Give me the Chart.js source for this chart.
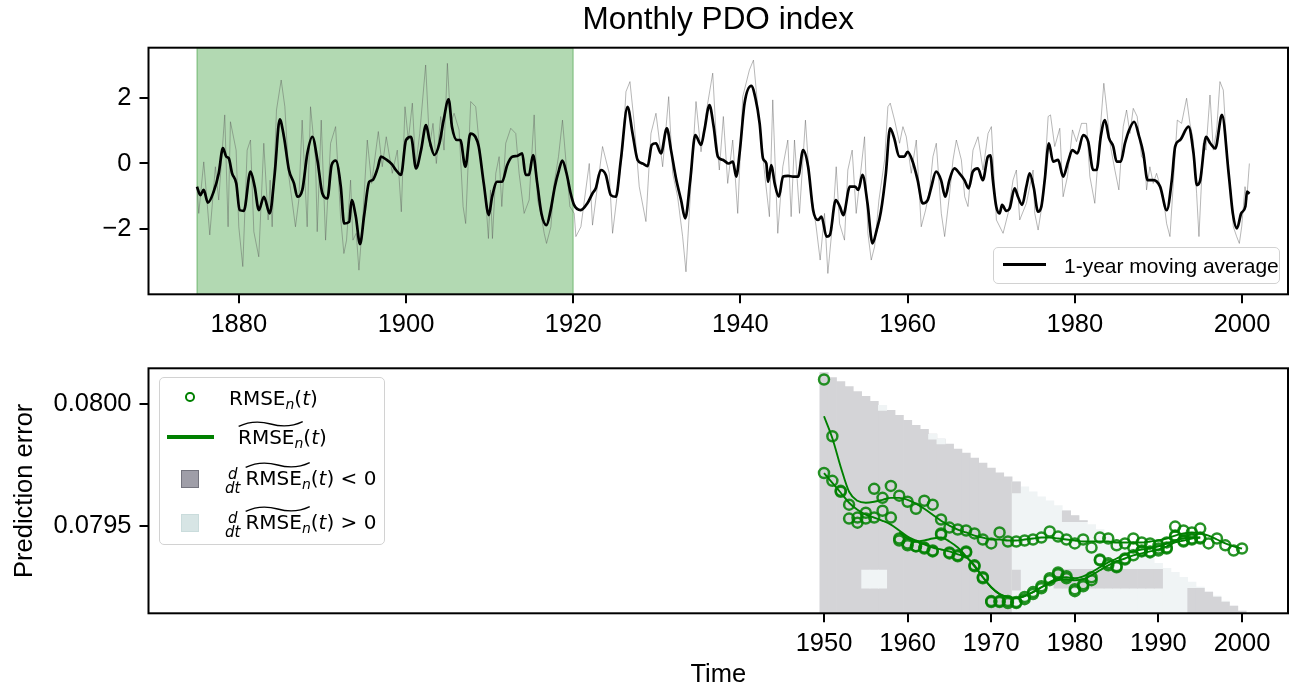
<!DOCTYPE html>
<html><head><meta charset="utf-8">
<script src="https://cdn.jsdelivr.net/npm/chart.js@4.4.1/dist/chart.umd.min.js"></script>
<style>
html,body{margin:0;padding:0;background:#fff;}
#wrap{position:relative;width:1307px;height:690px;overflow:hidden;}
canvas{position:absolute;left:0;}
#c1{top:0;} #c2{top:345px;}
.leg{position:absolute;background:rgba(255,255,255,0.85);border:1.5px solid #d2d2d2;border-radius:5px;box-sizing:border-box;}
.abs{position:absolute;}
.m{position:absolute;font-family:"DejaVu Sans",sans-serif;font-size:20px;line-height:20px;white-space:nowrap;color:#000;}
.sb{font-style:italic;font-size:14px;vertical-align:-4px;}
.tl{position:relative;display:inline-block;}
.tl svg{position:absolute;left:0;top:-6px;width:100%;height:6px;overflow:visible;}
.fr{display:inline-block;vertical-align:-8px;text-align:center;font-style:italic;font-size:15px;line-height:14px;margin-right:5px;}
</style></head>
<body><div id="wrap">
<canvas id="c1" width="1307" height="345"></canvas>
<canvas id="c2" width="1307" height="345"></canvas>

<div class="leg" style="left:993px;top:247px;width:287px;height:37px;">
  <div class="abs" style="left:9px;top:14.5px;width:43px;height:3px;background:#000;"></div>
  <div class="abs" style="left:70px;top:0;height:35px;line-height:35px;font-size:21px;font-family:Arial,'Liberation Sans',sans-serif;white-space:nowrap;">1-year moving average</div>
</div>

<div class="leg" style="left:159px;top:377px;width:226px;height:168px;">
  <div class="abs" style="left:25px;top:14.4px;width:5.5px;height:5.5px;border:2.5px solid #008000;border-radius:50%;"></div>
  <div class="m" style="left:69px;top:10px;">RMSE<span class="sb">n</span>(<i>t</i>)</div>

  <div class="abs" style="left:7px;top:57.3px;width:47px;height:3.5px;background:#008000;"></div>
  <div class="m" style="left:78px;top:49px;"><span class="tl">RMSE<span class="sb">n</span><svg viewBox="0 0 100 10" preserveAspectRatio="none"><path d="M1,9 C20,-1 40,2 50,5 C60,8 80,11 99,1" fill="none" stroke="#000" stroke-width="1.3" vector-effect="non-scaling-stroke"/></svg></span>(<i>t</i>)</div>

  <div class="abs" style="left:21px;top:92.3px;width:18.3px;height:17.4px;box-sizing:border-box;background:#9f9ea8;border:1.5px solid #74747e;"></div>
  <div class="m" style="left:65px;top:88.7px;"><span class="fr">d<br>dt</span><span class="tl">RMSE<span class="sb">n</span><svg viewBox="0 0 100 10" preserveAspectRatio="none"><path d="M1,9 C20,-1 40,2 50,5 C60,8 80,11 99,1" fill="none" stroke="#000" stroke-width="1.3" vector-effect="non-scaling-stroke"/></svg></span>(<i>t</i>) &lt; 0</div>

  <div class="abs" style="left:21px;top:136.3px;width:18.3px;height:17.4px;box-sizing:border-box;background:#d7e5e5;border:1.5px solid #cadcdc;"></div>
  <div class="m" style="left:65px;top:132.7px;"><span class="fr">d<br>dt</span><span class="tl">RMSE<span class="sb">n</span><svg viewBox="0 0 100 10" preserveAspectRatio="none"><path d="M1,9 C20,-1 40,2 50,5 C60,8 80,11 99,1" fill="none" stroke="#000" stroke-width="1.3" vector-effect="non-scaling-stroke"/></svg></span>(<i>t</i>) &gt; 0</div>
</div>
</div>

<script>
// ---------------- DATA ----------------
const X_RANGE = [1869.2, 2005.5];
const TOP_YRANGE = [-4.01, 3.55];
const BOT_YRANGE = [0.079141, 0.080147];
const TOP_XTICKS = [1880, 1900, 1920, 1940, 1960, 1980, 2000];
const TOP_YTICKS = [-2, 0, 2];
const BOT_XTICKS = [1950, 1960, 1970, 1980, 1990, 2000];
const BOT_YTICKS = [0.0795, 0.0800];
const SPAN = [1875, 1920];

// monthly PDO index (visible extremes), [year, value]
const RAW = [
[1875.0,-0.7],[1875.21,-1.53],[1875.81,0.05],[1876.53,-2.19],[1877.2,-0.1],[1877.6,-1.12],[1878.32,1.49],[1878.72,-1.94],[1879.0,1.28],[1879.68,0.41],[1880.0,-1.94],[1880.48,-3.16],[1881.0,0.41],[1881.4,0.72],[1881.8,-2.09],[1882.39,-2.86],[1882.99,0.62],[1883.51,-1.73],[1883.75,-0.51],[1883.99,-1.94],[1884.51,1.64],[1885.07,2.56],[1885.51,1.74],[1885.99,-0.4],[1886.78,-1.94],[1887.18,-1.12],[1887.58,1.33],[1888.18,-1.94],[1888.58,1.74],[1889.18,0.11],[1889.38,-2.09],[1889.86,1.33],[1890.38,-2.35],[1890.98,0.62],[1891.58,1.13],[1892.17,-1.63],[1892.57,-2.76],[1892.89,-2.35],[1893.37,-0.51],[1893.65,-2.35],[1894.05,-2.14],[1894.37,-3.27],[1894.77,-1.94],[1895.37,0.72],[1895.89,-0.61],[1896.69,0.98],[1897.16,-0.1],[1897.64,0.82],[1898.36,-0.3],[1898.96,0.41],[1899.44,-1.48],[1899.88,1.74],[1900.28,0.72],[1900.76,1.85],[1901.16,-0.1],[1901.64,0.92],[1902.35,3.02],[1902.83,0.52],[1903.23,1.23],[1903.63,0.0],[1904.15,1.44],[1904.55,0.41],[1904.95,3.07],[1905.35,1.23],[1905.75,1.54],[1906.35,1.03],[1906.83,-1.32],[1907.14,-1.84],[1907.74,1.9],[1908.34,1.74],[1908.82,0.41],[1909.54,-1.12],[1909.86,-2.3],[1910.1,-0.81],[1910.34,-2.3],[1910.74,-0.3],[1911.14,0.21],[1911.46,-1.32],[1911.93,0.62],[1912.53,1.08],[1913.13,0.92],[1913.53,-0.3],[1914.13,-1.53],[1914.73,-1.12],[1915.33,1.49],[1915.73,-1.12],[1916.13,-1.53],[1916.53,-2.14],[1916.81,-2.45],[1917.33,-1.94],[1917.72,-0.61],[1918.24,0.21],[1918.72,1.33],[1919.12,0.11],[1919.6,-1.32],[1920.12,-1.53],
[1920.32,-2.24],[1920.92,-1.94],[1921.92,0.0],[1922.31,-1.89],[1923.51,0.52],[1924.31,-0.3],[1924.71,-2.14],[1925.91,0.41],[1926.31,2.2],[1926.79,2.51],[1927.3,1.23],[1927.9,-0.71],[1928.7,-1.78],[1929.3,0.92],[1929.9,1.54],[1930.7,-0.1],[1931.42,2.05],[1931.9,-0.3],[1932.49,-1.02],[1933.09,-2.24],[1933.49,-3.32],[1934.09,-0.61],[1934.69,1.9],[1935.29,0.36],[1935.89,1.54],[1936.69,2.77],[1937.08,0.92],[1937.48,-0.2],[1937.96,1.44],[1938.48,-0.61],[1939.08,0.72],[1939.68,-1.53],[1940.28,2.05],[1941.08,2.87],[1941.56,3.17],[1942.08,1.74],[1942.47,0.72],[1943.07,-0.71],[1943.47,-1.63],[1943.87,1.95],[1944.27,-0.81],[1944.47,-2.14],[1945.07,-0.1],[1945.67,0.72],[1946.07,-1.63],[1946.47,0.72],[1947.07,-1.53],[1947.78,1.33],[1948.26,-0.51],[1949.06,-1.94],[1949.54,-2.96],[1950.06,-1.53],[1950.46,-3.37],[1951.06,-1.73],[1951.46,-0.1],[1951.86,-1.84],[1952.45,-2.35],[1952.85,-0.2],[1953.37,0.41],[1953.85,-1.53],[1954.85,0.82],[1955.25,-2.14],[1955.65,-2.96],[1956.05,-2.55],[1956.57,-1.12],[1957.25,0.11],[1957.64,1.74],[1957.92,1.85],[1958.44,1.33],[1959.04,0.62],[1959.44,1.13],[1959.84,0.82],[1960.44,-0.3],[1961.04,0.72],[1961.63,-1.94],[1962.15,-1.43],[1962.63,-0.81],[1963.03,0.21],[1963.43,0.62],[1964.03,-1.53],[1964.43,-2.24],[1965.03,-0.92],[1965.43,0.11],[1965.83,0.72],[1966.43,0.11],[1966.83,-1.02],[1967.22,-1.32],[1967.82,0.41],[1968.42,0.82],[1969.02,-0.2],[1969.62,0.92],
[1970.02,1.13],[1970.62,-1.73],[1971.42,-2.14],[1972.02,-1.53],[1972.61,-0.51],[1973.01,-0.2],[1973.41,-1.73],[1974.21,-1.22],[1975.01,-0.2],[1975.21,-1.53],[1975.61,-2.04],[1976.21,-1.07],[1976.81,1.44],[1977.09,1.49],[1977.6,0.52],[1978.2,1.08],[1978.6,-1.02],[1979.12,-0.4],[1979.72,1.03],[1980.2,0.67],[1980.8,1.23],[1981.4,1.23],[1981.8,-0.4],[1982.39,-1.22],[1982.99,0.87],[1983.47,2.46],[1983.79,1.74],[1984.27,0.52],[1984.79,-0.2],[1985.27,-0.81],[1985.79,1.13],[1986.19,1.64],[1986.59,0.92],[1986.99,1.69],[1987.46,1.44],[1987.98,0.21],[1988.38,0.11],[1988.58,-0.81],[1988.98,-0.1],[1989.38,-0.61],[1989.78,-0.3],[1990.58,-1.02],[1990.98,-1.84],[1991.38,-2.24],[1991.78,-0.61],[1992.26,1.33],[1992.77,1.23],[1993.37,2.0],[1993.77,1.23],[1994.17,0.72],[1994.57,-0.92],[1994.85,-2.24],[1995.37,0.62],[1995.69,0.41],[1996.17,2.1],[1996.57,0.41],[1996.97,1.03],[1997.36,2.51],[1997.76,2.25],[1998.24,0.21],[1998.64,-0.81],[1998.96,-1.94],[1999.36,-2.24],[1999.68,-2.45],[1999.96,-1.94],[2000.36,-0.71],[2000.56,-1.12],[2000.88,0.0]
];

// 1-year moving average, [year, value]
const MA = [
[1875.0,-0.71],[1875.4,-0.97],[1875.8,-0.81],[1876.3,-1.2],[1877.0,-0.86],[1877.6,-0.3],[1878.1,0.47],[1878.5,0.21],[1878.8,0.16],[1879.2,-0.3],[1879.7,-0.61],[1880.1,-1.43],[1880.6,-1.45],[1881.4,-0.25],[1881.9,-0.71],[1882.4,-1.43],[1883.0,-1.02],[1883.7,-1.53],[1884.3,-0.3],[1884.9,1.35],[1885.4,0.82],[1886.0,-0.2],[1886.6,-0.61],[1887.0,-1.02],[1887.6,-0.81],[1888.2,0.31],[1888.8,0.82],[1889.4,0.11],[1890.0,-0.92],[1890.6,-1.07],[1891.1,-0.05],[1891.6,0.09],[1892.2,-0.71],[1892.6,-1.84],[1893.2,-1.79],[1893.5,-1.12],[1894.0,-1.63],[1894.5,-2.47],[1895.0,-1.58],[1895.6,-0.56],[1896.0,-0.51],[1896.6,-0.15],[1897.0,0.21],[1897.7,0.11],[1898.3,-0.02],[1898.8,-0.2],[1899.4,-0.35],[1900.0,0.72],[1900.6,0.82],[1901.2,-0.15],[1901.8,0.41],[1902.4,1.18],[1902.8,0.72],[1903.4,0.26],[1904.0,0.62],[1904.5,1.33],[1905.1,1.97],[1905.5,1.13],[1906.1,0.72],[1906.5,0.72],[1907.1,-0.1],[1907.7,0.92],[1908.3,0.82],[1908.7,0.52],[1909.3,-0.61],[1909.9,-1.58],[1910.3,-1.02],[1910.9,-0.56],[1911.5,-0.56],[1912.1,-0.05],[1912.7,0.21],[1913.3,0.23],[1913.9,0.31],[1914.3,-0.35],[1914.7,-0.35],[1915.2,0.26],[1915.7,-0.61],[1916.2,-1.53],[1916.8,-1.89],[1917.3,-1.43],[1917.8,-0.71],[1918.3,-0.2],[1918.7,0.09],[1919.2,-0.3],[1919.7,-0.92],
[1920.1,-1.27],[1920.9,-1.43],[1921.7,-1.22],[1922.3,-0.92],[1922.7,-0.76],[1923.3,-0.2],[1923.9,-0.35],[1924.5,-0.97],[1925.1,-1.02],[1925.7,0.11],[1926.5,1.74],[1927.1,0.92],[1927.7,0.11],[1928.3,0.0],[1928.9,-0.08],[1929.4,0.57],[1929.9,0.62],[1930.5,0.31],[1931.2,1.08],[1931.7,0.41],[1932.3,-0.46],[1932.9,-1.12],[1933.4,-1.68],[1934.0,-0.51],[1934.6,0.87],[1935.3,0.57],[1935.7,1.03],[1936.3,1.79],[1936.8,1.13],[1937.3,0.21],[1937.9,0.11],[1938.6,0.0],[1939.1,0.06],[1939.5,-0.4],[1939.9,0.31],[1940.5,1.85],[1941.3,2.38],[1941.8,2.0],[1942.3,1.23],[1942.7,0.16],[1943.1,0.0],[1943.3,-0.56],[1943.7,-0.05],[1944.1,-0.61],[1944.6,-1.02],[1945.1,-0.4],[1945.7,-0.38],[1946.3,-0.4],[1946.9,-0.4],[1947.5,0.41],[1948.1,-0.1],[1948.7,-1.43],[1949.3,-1.73],[1949.7,-1.63],[1950.3,-2.24],[1950.7,-2.19],[1951.4,-1.12],[1951.9,-1.32],[1952.3,-1.58],[1953.1,-0.71],[1953.7,-0.71],[1954.1,-0.81],[1954.6,-0.35],[1955.2,-1.22],[1955.8,-2.45],[1956.3,-2.04],[1956.8,-1.48],[1957.4,-0.3],[1957.9,1.08],[1958.4,0.77],[1959.0,0.21],[1959.6,0.21],[1960.0,0.36],[1960.6,0.06],[1961.2,-0.51],[1961.8,-1.22],[1962.4,-1.12],[1962.8,-0.76],[1963.4,-0.25],[1964.0,-0.51],[1964.5,-1.02],[1965.0,-0.51],[1965.6,-0.15],[1966.2,-0.3],[1966.8,-0.51],[1967.3,-0.76],[1967.8,-0.25],[1968.4,-0.15],[1969.0,-0.51],[1969.6,0.21],[1969.9,0.25],
[1970.2,-0.51],[1970.6,-1.32],[1971.0,-1.53],[1971.3,-1.27],[1971.8,-1.45],[1972.2,-1.38],[1972.8,-0.76],[1973.2,-1.02],[1973.7,-1.27],[1974.2,-0.71],[1974.6,-0.3],[1975.1,-0.76],[1975.6,-1.48],[1976.0,-1.32],[1976.4,-0.51],[1976.9,0.62],[1977.4,0.06],[1978.0,0.11],[1978.6,-0.4],[1979.2,0.06],[1979.7,0.41],[1980.3,0.31],[1981.0,0.87],[1981.6,0.67],[1982.2,-0.2],[1982.6,-0.2],[1983.1,0.82],[1983.6,1.33],[1984.1,0.77],[1984.6,0.52],[1985.0,0.06],[1985.5,0.06],[1986.0,0.62],[1986.5,1.03],[1987.1,1.28],[1987.7,0.82],[1988.2,0.31],[1988.7,-0.51],[1989.4,-0.51],[1990.2,-0.71],[1991.0,-1.43],[1991.6,-0.51],[1992.0,0.52],[1992.6,0.72],[1993.6,1.13],[1994.2,0.31],[1994.6,-0.66],[1995.0,-0.51],[1995.7,0.82],[1996.2,0.62],[1996.8,0.46],[1997.6,1.49],[1998.4,-0.3],[1998.9,-1.53],[1999.4,-1.99],[1999.9,-1.53],[2000.4,-1.32],[2000.6,-0.86],[2000.9,-0.93]
];

// prediction error series
const S1_START = 1950;
const S1 = [0.080101,0.079868,0.079644,0.079587,0.079534,0.079554,0.079652,0.079615,0.079664,0.079624,0.079599,0.079570,0.079603,0.079587,0.079526,0.079493,0.079485,0.079481,0.079469,0.079444,0.079428,0.079473,0.079436,0.079436,0.079440,0.079444,0.079452,0.079477,0.079456,0.079444,0.079428,0.079444,0.079411,0.079452,0.079448,0.079420,0.079428,0.079448,0.079432,0.079428,0.079420,0.079432,0.079497,0.079481,0.079473,0.079489,0.079428,0.079448,0.079420,0.079399,0.079407];
const S2_START = 1950;
const S2 = [0.079717,0.079685,0.079640,0.079530,0.079513,0.079530,0.079534,0.079562,0.079534,0.079448,0.079428,0.079416,0.079411,0.079395,0.079464,0.079391,0.079379,0.079395,0.079338,0.079289,0.079191,0.079191,0.079191,0.079187,0.079199,0.079220,0.079244,0.079277,0.079301,0.079285,0.079232,0.079252,0.079277,0.079362,0.079338,0.079330,0.079362,0.079379,0.079395,0.079391,0.079399,0.079407,0.079456,0.079436,0.079444,0.079448];
const S3_START = 1959;
const S3 = [0.079440,0.079420,0.079416,0.079407,0.079399,0.079469,0.079387,0.079375,0.079391,0.079334,0.079285,0.079187,0.079187,0.079183,0.079183,0.079208,0.079228,0.079252,0.079285,0.079309,0.079293,0.079240,0.079260,0.079289,0.079358,0.079346,0.079334,0.079366,0.079411,0.079399,0.079395,0.079407,0.079411,0.079460,0.079440,0.079448,0.079452];
// smoothed series
const L1 = [0.079950,0.079860,0.079742,0.079640,0.079603,0.079595,0.079599,0.079607,0.079615,0.079615,0.079607,0.079591,0.079570,0.079546,0.079521,0.079501,0.079485,0.079473,0.079460,0.079452,0.079444,0.079444,0.079440,0.079440,0.079444,0.079448,0.079452,0.079452,0.079448,0.079444,0.079440,0.079436,0.079436,0.079436,0.079436,0.079432,0.079432,0.079432,0.079432,0.079436,0.079440,0.079448,0.079460,0.079469,0.079473,0.079469,0.079460,0.079444,0.079428,0.079416,0.079407];
const L2 = [0.079717,0.079677,0.079636,0.079595,0.079566,0.079546,0.079534,0.079521,0.079505,0.079481,0.079456,0.079440,0.079424,0.079411,0.079403,0.079395,0.079383,0.079371,0.079338,0.079289,0.079248,0.079220,0.079208,0.079204,0.079212,0.079228,0.079248,0.079264,0.079277,0.079281,0.079277,0.079281,0.079297,0.079318,0.079338,0.079354,0.079366,0.079379,0.079387,0.079395,0.079403,0.079416,0.079432,0.079440,0.079448,0.079452];
const L3 = [0.079473,0.079448,0.079436,0.079440,0.079448,0.079452,0.079436,0.079411,0.079375,0.079334,0.079289,0.079248,0.079220,0.079208,0.079204,0.079212,0.079228,0.079248,0.079269,0.079285,0.079289,0.079285,0.079293,0.079309,0.079330,0.079350,0.079366,0.079383,0.079395,0.079403,0.079407,0.079416,0.079428,0.079440,0.079448,0.079452,0.079452];

// derivative-sign grid: one column per year
const SHADE_YEARS = [1950,1951,1952,1953,1954,1955,1956,1957,1958,1959,1960,1961,1962,1963,1964,1965,1966,1967,1968,1969,1970,1971,1972,1973,1974,1975,1976,1977,1978,1979,1980,1981,1982,1983,1984,1985,1986,1987,1988,1989,1990,1991,1992,1993,1994,1995,1996,1997,1998,1999,2000];
const SHADE_TOP = [0.0801293,0.0801089,0.0800926,0.0800722,0.0800518,0.0800314,0.0800110,0.0799947,0.0799743,0.0799539,0.0799335,0.0799131,0.0798968,0.0798764,0.0798560,0.0798356,0.0798153,0.0797989,0.0797785,0.0797582,0.0797378,0.0797174,0.0797011,0.0796807,0.0796603,0.0796399,0.0796195,0.0796032,0.0795828,0.0795624,0.0795420,0.0795216,0.0795053,0.0794849,0.0794645,0.0794441,0.0794237,0.0794074,0.0793870,0.0793666,0.0793462,0.0793259,0.0793095,0.0792891,0.0792687,0.0792483,0.0792279,0.0792116,0.0791912,0.0791708,0.0791505];
const SHADE_SIGN = [-1,-1,-1,-1,-1,-1,-1,-1,-1,-1,-1,-1,-1,-1,-1,-1,-1,-1,-1,-1,-1,-1,-1,1,1,1,1,1,1,1,1,1,1,1,1,1,1,1,1,1,1,1,1,1,1,1,1,1,1,1,1];
// cells of the opposite sign: [year, low, high]
const POS_CELLS = [[1955,0.079244,0.079318],[1956,0.079244,0.079318],[1957,0.079244,0.079318],[1957,0.079974,0.079995],[1963,0.079856,0.079876],[1964,0.079836,0.079856]];
const NEG_CELLS = [[1973,0.079635,0.079681],[1973,0.079236,0.079318],[1979,0.079517,0.079562],[1980,0.079517,0.079542],[1981,0.079517,0.0795216],
[1978,0.079244,0.079322],[1979,0.079244,0.079322],[1980,0.079244,0.079322],[1981,0.079244,0.079322],[1982,0.079244,0.079322],[1983,0.079244,0.079322],[1984,0.079244,0.079322],[1985,0.079244,0.079322],[1986,0.079244,0.079322],[1987,0.079244,0.079322],[1988,0.079244,0.079322],[1989,0.079244,0.079322],[1990,0.079244,0.079322],
[1994,0.079141,0.079244],[1995,0.079141,0.079244],[1996,0.079141,0.0792279],[1997,0.079141,0.079208],[1998,0.079141,0.079187],[1999,0.079141,0.079171],[2000,0.079141,0.0791505]];

// ---------------- CHARTS ----------------
Chart.defaults.font.family = 'Arial, "Liberation Sans", Helvetica, sans-serif';
Chart.defaults.color = '#000';
const TF = {size: 25.5};
const frame = {id:'frame', afterDraw(chart){const {ctx, chartArea:a} = chart; ctx.save(); ctx.strokeStyle='#000'; ctx.lineWidth=2; ctx.strokeRect(a.left, a.top, a.right-a.left, a.bottom-a.top); ctx.restore();}};
const gridOpt = {offset:false, drawOnChartArea:false, drawTicks:true, tickLength:9, tickWidth:2, tickColor:'#000', lineWidth:2, color:'#000'};
const series = (start, arr) => arr.map((v,i)=>({x:start+i, y:v}));

new Chart(document.getElementById('c1'), {
  type:'line',
  data:{datasets:[
    {data:RAW.map(p=>({x:p[0],y:p[1]})), borderColor:'rgba(90,90,90,0.55)', borderWidth:0.8, pointRadius:0, tension:0, order:2},
    {data:MA.map(p=>({x:p[0],y:p[1]})), borderColor:'#000', borderWidth:2.7, pointRadius:0, cubicInterpolationMode:'monotone', order:1},
    {data:[{x:SPAN[0],y:TOP_YRANGE[0]},{x:SPAN[0],y:TOP_YRANGE[1]},{x:SPAN[1],y:TOP_YRANGE[1]},{x:SPAN[1],y:TOP_YRANGE[0]}],
     borderColor:'rgba(0,128,0,0.3)', backgroundColor:'rgba(0,128,0,0.3)', borderWidth:1.5, fill:'start', pointRadius:0, tension:0, order:3}
  ]},
  options:{
    animation:false, responsive:false, devicePixelRatio:1,
    layout:{padding:{left:0,right:19,top:0,bottom:0}},
    plugins:{legend:{display:false}, tooltip:{enabled:false},
      title:{display:true, fullSize:false, text:'Monthly PDO index', color:'#000', font:{size:31.5, weight:'normal'}, padding:{top:1,bottom:8.9}}},
    scales:{
      x:{type:'linear', min:X_RANGE[0], max:X_RANGE[1], offset:false,
         afterBuildTicks:s=>{s.ticks = TOP_XTICKS.map(v=>({value:v}));},
         ticks:{font:TF, padding:6, maxRotation:0, autoSkip:false, callback:v=>String(v)},
         grid:gridOpt, border:{display:false},
         afterFit:s=>{s.height = 50.7;}},
      y:{type:'linear', min:TOP_YRANGE[0], max:TOP_YRANGE[1],
         afterBuildTicks:s=>{s.ticks = TOP_YTICKS.map(v=>({value:v}));},
         ticks:{font:TF, padding:8, autoSkip:false, callback:v=> v<0 ? '\u2212'+Math.abs(v) : String(v)},
         grid:gridOpt, border:{display:false},
         afterFit:s=>{s.width = 148.5;}}
    }
  },
  plugins:[frame]
});

const barBase = {type:'bar', barPercentage:1, categoryPercentage:1, grouped:false, borderWidth:0, clip:0};
const GRAY = 'rgb(212,212,215)', LIGHT = 'rgb(240,244,245)';
const cols = SHADE_YEARS.map((yr,i)=>({x:yr, y:[BOT_YRANGE[0], SHADE_TOP[i]], s:SHADE_SIGN[i]}));
const PT = 'rgba(0,128,0,0.85)';
const ptStyle = {type:'scatter', showLine:false, pointRadius:5, pointBorderWidth:2.5, pointBackgroundColor:'rgba(0,0,0,0)', backgroundColor:'rgba(0,0,0,0)', borderColor:PT, pointBorderColor:PT, pointHoverRadius:5, clip:false};
const lnStyle = {type:'line', borderColor:'#008000', borderWidth:1.9, pointRadius:0, cubicInterpolationMode:'monotone'};

new Chart(document.getElementById('c2'), {
  type:'scatter',
  data:{datasets:[
    Object.assign({}, barBase, {data:cols.filter(c=>c.s<0).map(c=>({x:c.x,y:c.y})), backgroundColor:GRAY, order:20}),
    Object.assign({}, barBase, {data:cols.filter(c=>c.s>0).map(c=>({x:c.x,y:c.y})), backgroundColor:LIGHT, order:19}),
    Object.assign({}, barBase, {data:POS_CELLS.map(c=>({x:c[0],y:[c[1],c[2]]})), backgroundColor:LIGHT, order:18}),
    Object.assign({}, barBase, {data:NEG_CELLS.map(c=>({x:c[0],y:[c[1],c[2]]})), backgroundColor:GRAY, order:17}),
    Object.assign({}, lnStyle, {data:series(S1_START, L1), order:6}),
    Object.assign({}, lnStyle, {data:series(S2_START, L2), order:5}),
    Object.assign({}, lnStyle, {data:series(S3_START, L3), order:4}),
    Object.assign({}, ptStyle, {data:series(S1_START, S1), order:3}),
    Object.assign({}, ptStyle, {data:series(S2_START, S2), order:2}),
    Object.assign({}, ptStyle, {data:series(S3_START, S3), order:1})
  ]},
  options:{
    animation:false, responsive:false, devicePixelRatio:1,
    layout:{padding:{left:0,right:19,top:21.7,bottom:0}},
    plugins:{legend:{display:false}, tooltip:{enabled:false}},
    scales:{
      x:{type:'linear', min:X_RANGE[0], max:X_RANGE[1], offset:false,
         afterBuildTicks:s=>{s.ticks = BOT_XTICKS.map(v=>({value:v}));},
         ticks:{font:TF, padding:6, maxRotation:0, autoSkip:false, callback:v=>String(v)},
         grid:gridOpt, border:{display:false},
         title:{display:true, text:'Time', font:TF, color:'#000', padding:{top:0,bottom:0}},
         afterFit:s=>{s.height = 76.7;}},
      y:{type:'linear', min:BOT_YRANGE[0], max:BOT_YRANGE[1],
         afterBuildTicks:s=>{s.ticks = BOT_YTICKS.map(v=>({value:v}));},
         ticks:{font:TF, padding:8, autoSkip:false, callback:v=>Number(v).toFixed(4)},
         grid:gridOpt, border:{display:false},
         title:{display:true, text:'Prediction error', font:TF, color:'#000', padding:{top:10,bottom:0}},
         afterFit:s=>{s.width = 148.5;}}
    }
  },
  plugins:[frame]
});
</script>
</body></html>
